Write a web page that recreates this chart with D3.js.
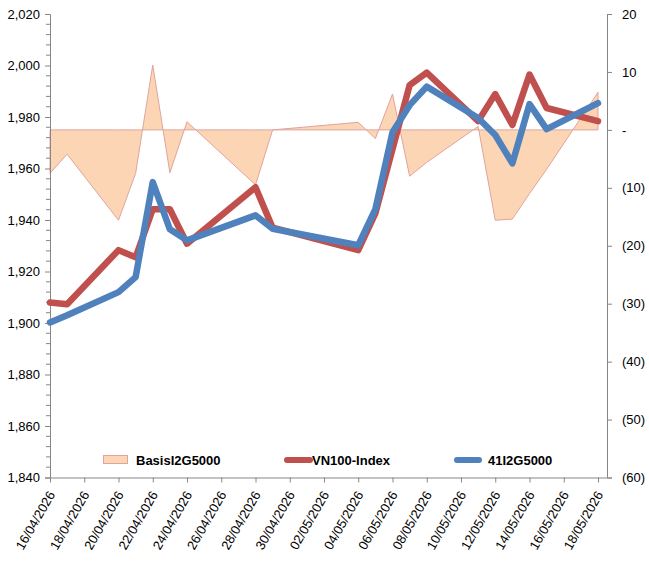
<!DOCTYPE html>
<html>
<head>
<meta charset="utf-8">
<script src="https://cdn.jsdelivr.net/npm/d3@7/dist/d3.min.js"></script>
<style>
  html, body { margin: 0; padding: 0; background: #fff; }
  svg { display: block; font-family: "Liberation Sans", Arial, sans-serif; }
</style>
</head>
<body>
<svg id="chart" width="649" height="562"></svg>
<script>
// ---------- DATA ----------
const dates = ["16/04/2026","17/04/2026","20/04/2026","21/04/2026","22/04/2026","23/04/2026","24/04/2026",
  "28/04/2026","29/04/2026","04/05/2026","05/05/2026","06/05/2026","07/05/2026","08/05/2026",
  "11/05/2026","12/05/2026","13/05/2026","14/05/2026","15/05/2026","18/05/2026"];
const vn100 = [1908.0, 1907.3, 1928.3, 1925.5, 1944.2, 1944.2, 1930.8, 1952.7, 1937.0, 1928.3,
  1942.6, 1967.5, 1992.4, 1997.2, 1978.4, 1988.9, 1976.9, 1996.5, 1983.5, 1978.4];
const fut41 = [1900.2, 1903.0, 1912.0, 1917.8, 1954.7, 1936.4, 1932.1, 1941.8, 1936.6, 1930.2,
  1944.2, 1974.1, 1984.6, 1991.8, 1979.6, 1973.0, 1962.0, 1985.0, 1975.3, 1985.4];
const basis = [-7.5, -4.2, -15.6, -7.5, 11.2, -7.4, 1.4, -9.5, 0.0, 1.3,
  -1.5, 6.2, -8.0, -5.6, 0.6, -15.6, -15.4, -11.0, -6.8, 6.5];
const tickLabels = ["16/04/2026","18/04/2026","20/04/2026","22/04/2026","24/04/2026","26/04/2026",
  "28/04/2026","30/04/2026","02/05/2026","04/05/2026","06/05/2026","08/05/2026","10/05/2026",
  "12/05/2026","14/05/2026","16/05/2026","18/05/2026"];
const leftTicks = [1840, 1860, 1880, 1900, 1920, 1940, 1960, 1980, 2000, 2020];
const rightTicks = [-60, -50, -40, -30, -20, -10, 0, 10, 20];
const seriesNames = ["BasisI2G5000", "VN100-Index", "41I2G5000"];

// ---------- SETUP ----------
const parse = d3.timeParse("%d/%m/%Y");
const dDates = dates.map(parse);
const tDates = tickLabels.map(parse);

const svg = d3.select("#chart");
const axisColor = "#868686";
const pLeft = 50, pRight = 607, pTop = 14, pBottom = 477.5;

const x = d3.scaleTime().domain([tDates[0], tDates[tDates.length - 1]]).range([50, 598]);
const yL = d3.scaleLinear().domain([1840, 2020]).range([pBottom, pTop]);
const yR = d3.scaleLinear().domain([-60, 20]).range([pBottom, pTop]);

// ---------- BASIS AREA ----------
const areaData = dDates.map((d, i) => ({ d, v: basis[i] }));
const area = d3.area().x(p => x(p.d)).y0(yR(0)).y1(p => yR(p.v));
svg.append("path")
  .datum(areaData)
  .attr("d", area)
  .attr("fill", "#FCD5B5")
  .attr("stroke", "#E0A49E")
  .attr("stroke-width", 1);

// ---------- AXES ----------
const gL = svg.append("g").attr("transform", `translate(${pLeft},0)`);
gL.call(d3.axisLeft(yL).tickValues(leftTicks).tickSize(5).tickPadding(6).tickFormat(d3.format(",")));
const minor = d3.range(1840, 2020.01, 4).filter(v => v % 20 !== 0);
gL.selectAll(".minor").data(minor).enter().append("line")
  .attr("class", "minor").attr("x1", -4).attr("x2", 0)
  .attr("y1", d => yL(d)).attr("y2", d => yL(d));

const gR = svg.append("g").attr("transform", `translate(${pRight},0)`);
gR.call(d3.axisRight(yR).tickValues(rightTicks).tickSize(5).tickPadding(10)
  .tickFormat(v => v === 0 ? "-" : (v < 0 ? `(${-v})` : String(v))));

const gB = svg.append("g").attr("transform", `translate(0,${pBottom})`);
gB.call(d3.axisBottom(x).tickValues(tDates).tickSize(5).tickFormat(d3.timeFormat("%d/%m/%Y")));
gB.select(".domain").attr("d", `M${pLeft},0.5H${pRight}`);
gB.selectAll(".tick text")
  .attr("text-anchor", "end")
  .attr("x", 0).attr("y", 0).attr("dx", 0).attr("dy", 0)
  .attr("transform", "translate(5,17) rotate(-60)");

[gL, gR, gB].forEach(g => {
  g.select(".domain").attr("stroke", axisColor);
  g.selectAll("line").attr("stroke", axisColor);
  g.selectAll("text").attr("fill", "#000").style("font-size", "13px")
    .style("font-family", '"Liberation Sans", Arial, sans-serif');
});
gL.selectAll(".tick text").attr("x", -10);

// ---------- LINES ----------
const lineL = d3.line().x((p, i) => x(dDates[i])).y(p => yL(p));
svg.append("path").datum(vn100).attr("d", lineL)
  .attr("fill", "none").attr("stroke", "#C0504D").attr("stroke-width", 6.5)
  .attr("stroke-linejoin", "round").attr("stroke-linecap", "round");
svg.append("path").datum(fut41).attr("d", lineL)
  .attr("fill", "none").attr("stroke", "#4F81BD").attr("stroke-width", 6.5)
  .attr("stroke-linejoin", "round").attr("stroke-linecap", "round");

// ---------- LEGEND ----------
const lg = svg.append("g").style("font-size", "13px").style("font-weight", "bold")
  .style("font-family", '"Liberation Sans", Arial, sans-serif');
lg.append("rect").attr("x", 103.5).attr("y", 455.5).attr("width", 24).attr("height", 8)
  .attr("fill", "#FCD5B5").attr("stroke", "#E0A49E");
lg.append("text").attr("x", 136).attr("y", 465).text(seriesNames[0]);
lg.append("line").attr("x1", 287).attr("x2", 310).attr("y1", 460).attr("y2", 460)
  .attr("stroke", "#C0504D").attr("stroke-width", 6).attr("stroke-linecap", "round");
lg.append("text").attr("x", 312).attr("y", 465).text(seriesNames[1]);
lg.append("line").attr("x1", 457).attr("x2", 479).attr("y1", 460).attr("y2", 460)
  .attr("stroke", "#4F81BD").attr("stroke-width", 6).attr("stroke-linecap", "round");
lg.append("text").attr("x", 488).attr("y", 465).text(seriesNames[2]);
</script>
</body>
</html>
